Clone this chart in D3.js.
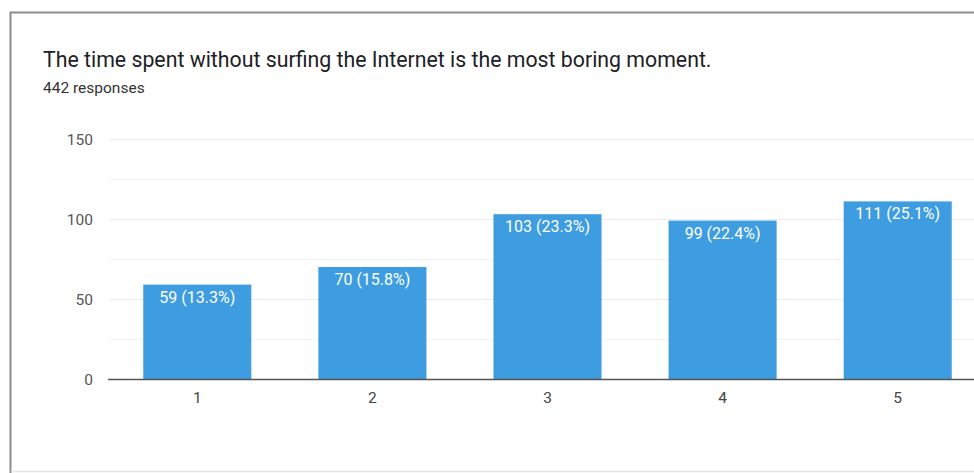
<!DOCTYPE html>
<html>
<head>
<meta charset="utf-8">
<script src="https://cdn.jsdelivr.net/npm/d3@7"></script>
<style>
  html, body { margin: 0; padding: 0; background: #fff; }
  svg { display: block; }
</style>
</head>
<body>
<svg id="chart" width="974" height="473"></svg>
<script>
// Survey answers on a 1–5 scale and their response counts
const categories = ["1", "2", "3", "4", "5"];
const counts = [59, 70, 103, 99, 111];
const percents = ["13.3%", "15.8%", "23.3%", "22.4%", "25.1%"];
const yTicks = [0, 50, 100, 150];
const gridValues = [25, 50, 75, 100, 125, 150];
const title = "The time spent without surfing the Internet is the most boring moment.";
const subtitle = "442 responses";

const svg = d3.select("#chart");
const font = "Roboto, Arial, sans-serif";

// card frame: darker left/top edges, faint bottom edge
svg.append("rect")
  .attr("x", 10).attr("y", 12)
  .attr("width", 1000).attr("height", 460)
  .attr("fill", "#fff");
svg.append("line")
  .attr("x1", 10).attr("x2", 974).attr("y1", 12.5).attr("y2", 12.5)
  .attr("stroke", "#8c8c8c").attr("stroke-width", 2);
svg.append("line")
  .attr("x1", 10.5).attr("x2", 10.5).attr("y1", 12).attr("y2", 473)
  .attr("stroke", "#8c8c8c").attr("stroke-width", 2);
svg.append("line")
  .attr("x1", 11).attr("x2", 974).attr("y1", 471.5).attr("y2", 471.5)
  .attr("stroke", "#e4e4e4").attr("stroke-width", 1.5);

svg.append("text")
  .attr("x", 43).attr("y", 67)
  .attr("font-family", font).attr("font-size", 21.3)
  .attr("fill", "#202124")
  .text(title);

svg.append("text")
  .attr("x", 43).attr("y", 93)
  .attr("font-family", font).attr("font-size", 15.5)
  .attr("fill", "#333")
  .text(subtitle);

const x = d3.scaleBand()
  .domain(categories)
  .range([110, 985])
  .paddingInner(0.383)
  .paddingOuter(0.19);

const y = d3.scaleLinear()
  .domain([0, 150])
  .range([379, 139]);

// horizontal gridlines
svg.append("g")
  .selectAll("line")
  .data(gridValues)
  .join("line")
  .attr("x1", 109).attr("x2", 974)
  .attr("y1", d => Math.round(y(d)) + 0.5)
  .attr("y2", d => Math.round(y(d)) + 0.5)
  .attr("stroke", d => d % 50 === 0 ? "#ebebeb" : "#f4f4f4")
  .attr("stroke-width", 1);

// y tick labels
svg.append("g")
  .selectAll("text")
  .data(yTicks)
  .join("text")
  .attr("x", 93)
  .attr("y", d => y(d) + 5.5)
  .attr("text-anchor", "end")
  .attr("font-family", font).attr("font-size", 15.5)
  .attr("fill", "#555")
  .text(d => d);

// bars
svg.append("g")
  .selectAll("rect")
  .data(counts)
  .join("rect")
  .attr("x", (d, i) => x(categories[i]))
  .attr("y", d => y(d))
  .attr("width", x.bandwidth())
  .attr("height", d => y(0) - y(d))
  .attr("fill", "#3d9de0");

// value labels inside bar tops
svg.append("g")
  .selectAll("text")
  .data(counts)
  .join("text")
  .attr("x", (d, i) => x(categories[i]) + x.bandwidth() / 2)
  .attr("y", d => y(d) + 18)
  .attr("text-anchor", "middle")
  .attr("font-family", font).attr("font-size", 16)
  .attr("fill", "#fff")
  .text((d, i) => `${d} (${percents[i]})`);

// baseline
svg.append("line")
  .attr("x1", 108).attr("x2", 974)
  .attr("y1", 379.5).attr("y2", 379.5)
  .attr("stroke", "#555").attr("stroke-width", 1.3);

// x tick labels
svg.append("g")
  .selectAll("text")
  .data(categories)
  .join("text")
  .attr("x", d => x(d) + x.bandwidth() / 2)
  .attr("y", 403)
  .attr("text-anchor", "middle")
  .attr("font-family", font).attr("font-size", 15.5)
  .attr("fill", "#444")
  .text(d => d);
</script>
</body>
</html>
